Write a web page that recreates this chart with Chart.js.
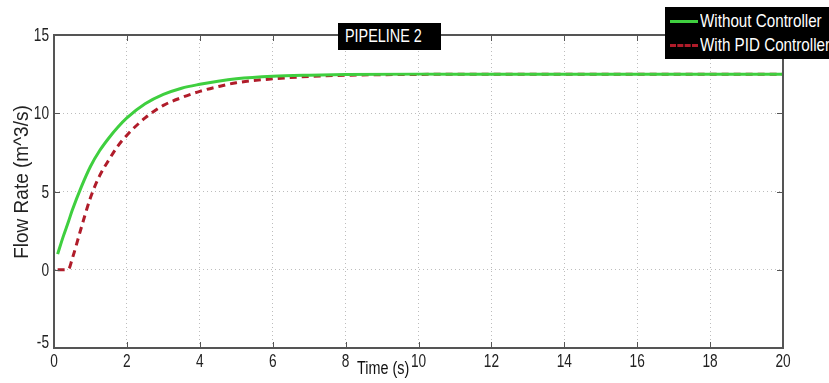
<!DOCTYPE html>
<html>
<head>
<meta charset="utf-8">
<script src="https://cdn.jsdelivr.net/npm/chart.js@4.4.1/dist/chart.umd.min.js"></script>
<style>
  html, body { margin: 0; padding: 0; background: #fff; }
  #wrap { position: relative; width: 829px; height: 383px; font-family: 'Liberation Sans', Arial, sans-serif; }
  #chart { position: absolute; left: 0; top: 0; }
  .box { position: absolute; background: #000; color: #fff; }
  .narrow { display: inline-block; transform: scaleX(0.8); transform-origin: left center; white-space: nowrap; }
  #title { left: 338px; top: 23px; width: 103px; height: 27px; font-size: 18px; line-height: 27px; }
  #title .narrow { position: absolute; left: 7px; top: 0; }
  #legend { left: 665px; top: 7px; width: 164px; height: 52px; font-size: 19px; }
  #legend .row { position: absolute; left: 0; height: 24px; line-height: 24px; }
  #legend .sample { position: absolute; left: 5px; top: 11px; width: 28px; height: 0; }
  #legend .txt { position: absolute; left: 35px; top: 0; }
  #xtitle { position: absolute; left: 357px; top: 358px; font-size: 18px; color: #111; }
</style>
</head>
<body>
<div id="wrap">
  <canvas id="chart" width="829" height="383"></canvas>
  <div id="title" class="box"><span class="narrow">PIPELINE 2</span></div>
  <div id="legend" class="box">
    <div class="row" style="top:2px"><span class="sample" style="border-top:3px solid #3fcf3f"></span><span class="txt narrow">Without Controller</span></div>
    <div class="row" style="top:26px"><span class="sample" style="border-top:3px dashed #b01c2a"></span><span class="txt narrow">With PID Controller</span></div>
  </div>
  <div id="xtitle"><span class="narrow">Time (s)</span></div>
</div>
<script>
var time_s = [0.1, 0.25, 0.4, 0.5, 0.75, 1, 1.25, 1.5, 1.75, 2, 2.5, 3, 3.5, 4, 4.5, 5, 6, 7, 8, 10, 12, 14, 16, 18, 20];
var without_controller = [1.0, 2.1, 3.1, 3.8, 5.3, 6.6, 7.6, 8.4, 9.1, 9.7, 10.6, 11.2, 11.6, 11.85, 12.05, 12.2, 12.36, 12.43, 12.47, 12.5, 12.5, 12.5, 12.5, 12.5, 12.5];
var with_pid = [0, 0, 0.05, 0.7, 2.7, 4.6, 6.0, 7.0, 7.9, 8.6, 9.7, 10.5, 11.0, 11.4, 11.7, 11.95, 12.2, 12.35, 12.43, 12.48, 12.5, 12.5, 12.5, 12.5, 12.5];
var x_ticks = [0, 2, 4, 6, 8, 10, 12, 14, 16, 18, 20];
var y_ticks = [-5, 0, 5, 10, 15];
var y_title = 'Flow Rate (m^3/s)';

var fontFamily = "'Liberation Sans', Arial, sans-serif";

function pairs(xs, ys) {
  return xs.map(function (t, i) { return { x: t, y: ys[i] }; });
}

// squeezed text, the matlab export has narrow lettering
function narrowText(ctx, text, x, y, align, squeeze) {
  ctx.save();
  ctx.translate(x, y);
  ctx.scale(squeeze, 1);
  ctx.textAlign = align;
  ctx.fillText(text, 0, 0);
  ctx.restore();
}

// box round the plot area with small inward ticks, plus tick labels
var framePlugin = {
  id: 'frame',
  afterDraw: function (chart) {
    var a = chart.chartArea, ctx = chart.ctx;
    var xs = chart.scales.x, ys = chart.scales.y;
    ctx.save();
    ctx.strokeStyle = '#555';
    ctx.lineWidth = 2;
    ctx.strokeRect(a.left, a.top, a.right - a.left, a.bottom - a.top);
    ctx.lineWidth = 1;
    ctx.beginPath();
    x_ticks.forEach(function (v) {
      var px = Math.round(xs.getPixelForValue(v)) + 0.5;
      ctx.moveTo(px, a.bottom); ctx.lineTo(px, a.bottom - 6);
      ctx.moveTo(px, a.top); ctx.lineTo(px, a.top + 6);
    });
    y_ticks.forEach(function (v) {
      var py = Math.round(ys.getPixelForValue(v)) + 0.5;
      ctx.moveTo(a.left, py); ctx.lineTo(a.left + 6, py);
      ctx.moveTo(a.right, py); ctx.lineTo(a.right - 6, py);
    });
    ctx.stroke();

    ctx.fillStyle = '#222';
    ctx.font = '19px ' + fontFamily;
    ctx.textBaseline = 'middle';
    x_ticks.forEach(function (v) {
      narrowText(ctx, String(v), xs.getPixelForValue(v), a.bottom + 14, 'center', 0.72);
    });
    y_ticks.forEach(function (v) {
      var py = ys.getPixelForValue(v);
      if (v === -5) py -= 6;
      narrowText(ctx, String(v), a.left - 5, py + 1, 'right', 0.72);
    });

    ctx.font = '20px ' + fontFamily;
    ctx.save();
    ctx.translate(22, 182);
    ctx.rotate(-Math.PI / 2);
    ctx.scale(0.95, 1);
    ctx.textAlign = 'center';
    ctx.fillText(y_title, 0, 0);
    ctx.restore();
    ctx.restore();
  }
};

var myChart = new Chart(document.getElementById('chart'), {
  type: 'line',
  data: {
    datasets: [{
      label: 'Without Controller',
      data: pairs(time_s, without_controller),
      borderColor: '#3fcf3f',
      borderWidth: 3,
      pointRadius: 0,
      fill: false,
      cubicInterpolationMode: 'monotone'
    }, {
      label: 'With PID Controller',
      data: pairs(time_s, with_pid),
      borderColor: '#b01c2a',
      borderWidth: 3,
      borderDash: [7, 5],
      pointRadius: 0,
      fill: false,
      cubicInterpolationMode: 'monotone'
    }]
  },
  options: {
    responsive: false,
    animation: false,
    layout: { padding: { top: 35, right: 46, left: 0, bottom: 0 } },
    plugins: {
      legend: { display: false },
      title: { display: false },
      tooltip: { enabled: false }
    },
    scales: {
      x: {
        type: 'linear',
        min: 0,
        max: 20,
        afterBuildTicks: function (scale) {
          scale.ticks = x_ticks.map(function (v) { return { value: v }; });
        },
        afterFit: function (scale) { scale.height = 35; },
        grid: { color: '#bdbdbd', drawTicks: false },
        border: { color: '#555', width: 2, dash: [1, 3] },
        ticks: { display: false }
      },
      y: {
        min: -5,
        max: 15,
        afterBuildTicks: function (scale) {
          scale.ticks = y_ticks.map(function (v) { return { value: v }; });
        },
        afterFit: function (scale) { scale.width = 54; },
        grid: { color: '#bdbdbd', drawTicks: false },
        border: { color: '#555', width: 2, dash: [1, 3] },
        ticks: { display: false }
      }
    }
  },
  plugins: [framePlugin]
});
</script>
</body>
</html>
